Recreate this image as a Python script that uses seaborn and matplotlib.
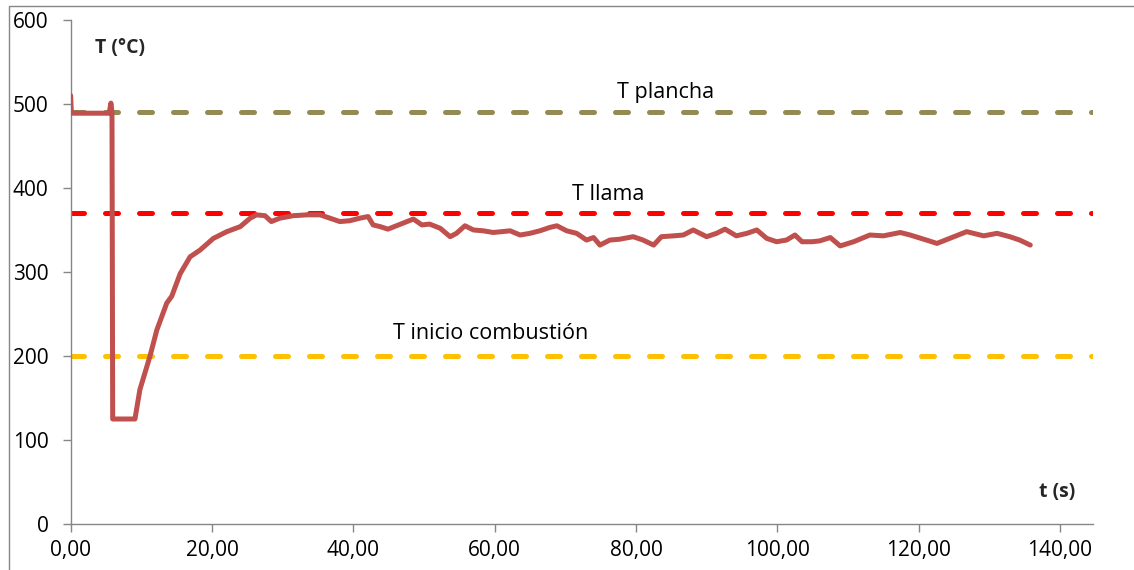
import matplotlib
matplotlib.use("Agg")
import matplotlib.pyplot as plt
from matplotlib.patches import Rectangle
from matplotlib.ticker import FuncFormatter, MultipleLocator
import seaborn as sns
import pandas as pd

# Measured plate temperature over time
t_s = [0.0, 0.1, 5.45, 5.7, 5.85, 5.95, 9.1, 9.8, 11.2, 12.2, 13.6, 14.3, 15.5,
       16.9, 18.3, 20.2, 22.1, 24.0, 25.4, 26.3, 27.5, 28.4, 29.6, 31.5, 33.4,
       35.3, 36.7, 38.1, 39.5, 40.9, 42.1, 42.8, 43.8, 44.9, 46.1, 47.6, 48.5,
       49.7, 50.8, 52.3, 53.7, 54.6, 55.8, 57.0, 58.4, 59.8, 62.2, 63.6, 65.0,
       66.4, 67.8, 68.8, 70.2, 71.6, 73.0, 74.0, 74.9, 76.3, 77.7, 79.6, 81.0,
       82.5, 83.6, 85.3, 86.7, 88.1, 90.0, 91.4, 92.6, 94.2, 95.7, 97.1, 98.5,
       99.9, 101.3, 102.5, 103.5, 104.9, 106.0, 107.5, 108.9, 110.8, 113.1,
       115.0, 117.4, 118.8, 121.1, 122.6, 124.4, 126.8, 129.2, 131.1, 132.9,
       134.3, 135.8]
temp_c = [510, 489, 489, 501, 490, 125, 125, 160, 199, 231, 263, 271, 298,
          318, 326, 340, 348, 354, 364, 368, 367, 360, 364, 367, 368,
          368, 364, 360, 361, 364, 366, 356, 354, 351, 355, 360, 363,
          356, 357, 352, 342, 346, 355, 350, 349, 347, 349, 344, 346,
          349, 353, 355, 349, 346, 338, 341, 332, 338, 339, 342, 338,
          332, 342, 343, 344, 350, 342, 346, 351, 343, 346, 350, 340,
          336, 338, 344, 336, 336, 337, 341, 331, 336, 344,
          343, 347, 344, 338, 334, 340, 348, 343, 346, 342,
          338, 332]

# Reference temperatures
ref_labels = ["T plancha", "T llama", "T inicio combustión"]
ref_values = [490, 370, 200]
ref_colors = ["#948A54", "#FF0000", "#FFC000"]
ref_label_pos = [(84.2, 514), (76.0, 392), (59.5, 227)]

x_ticks = [0, 20, 40, 60, 80, 100, 120, 140]

sns.set_style("white")
plt.rcParams["font.family"] = ["Open Sans", "DejaVu Sans"]

fig = plt.figure(figsize=(11.34, 5.70), dpi=100)
ax = fig.add_axes([0.0623, 0.0807, 0.9017, 0.8843])

# outer chart frame
fig.patches.append(Rectangle((8.5 / 1134, -0.5), 2.0, 1.5 - 5.5 / 570,
                             transform=fig.transFigure, fill=False,
                             edgecolor="#868686", linewidth=1.0))

for label, value, color in zip(ref_labels, ref_values, ref_colors):
    ax.axhline(value, xmin=0, xmax=1, color=color, linewidth=3.6,
               linestyle=(0, (2.6, 4.2)), dash_capstyle="round", zorder=2)

curve = pd.DataFrame({"t": t_s, "T": temp_c})
sns.lineplot(data=curve, x="t", y="T", ax=ax, color="#C0504D", linewidth=3.6,
             sort=False, zorder=3)
for line in ax.get_lines():
    line.set_solid_joinstyle("round")
    line.set_solid_capstyle("round")

for label, (lx, ly) in zip(ref_labels, ref_label_pos):
    ax.text(lx, ly, label, ha="center", va="center", fontsize=15.5,
            color="#000000")

ax.text(7.0, 567, "T (°C)", ha="center", va="center", fontsize=14,
        fontweight="bold")
ax.text(139.6, 38, "t (s)", ha="center", va="center", fontsize=14,
        fontweight="bold")

ax.set_xlim(0, 144.7)
ax.set_ylim(0, 600)
ax.set_xticks(x_ticks)
ax.yaxis.set_major_locator(MultipleLocator(100))
ax.xaxis.set_major_formatter(FuncFormatter(lambda v, p: f"{v:.2f}".replace(".", ",")))
ax.yaxis.set_major_formatter(FuncFormatter(lambda v, p: f"{v:.0f}"))
ax.set_xlabel("")
ax.set_ylabel("")

for side in ("top", "right"):
    ax.spines[side].set_visible(False)
for side in ("left", "bottom"):
    ax.spines[side].set_color("#868686")
    ax.spines[side].set_linewidth(1.0)
ax.tick_params(axis="both", direction="out", length=5.8, width=1.0,
               color="#868686", labelsize=15, labelcolor="#000000",
               left=True, bottom=True)
ax.tick_params(axis="y", pad=10)
ax.tick_params(axis="x", pad=6)

fig.savefig("out.png", dpi=100, facecolor="white")
